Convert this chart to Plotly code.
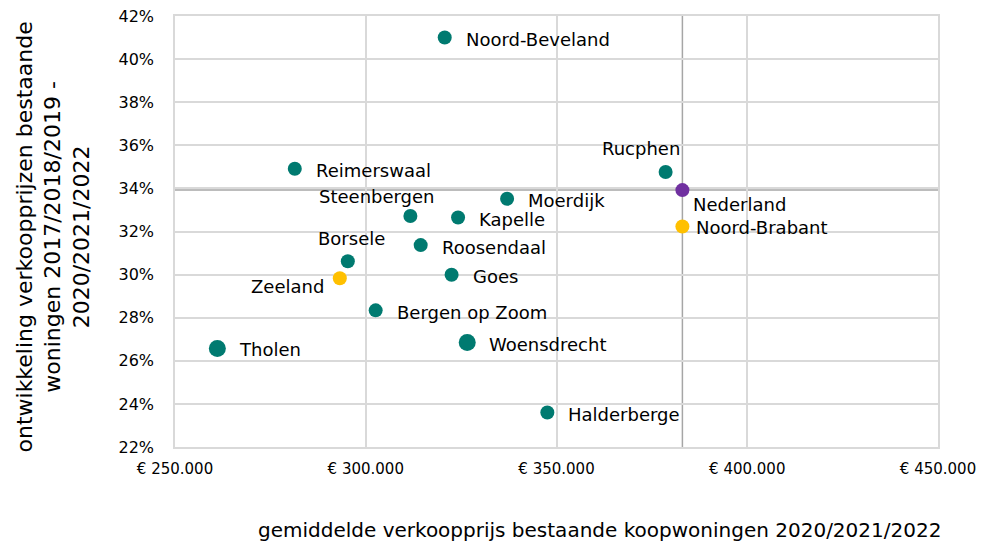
import plotly.graph_objects as go

names = ["Noord-Beveland", "Reimerswaal", "Steenbergen", "Kapelle", "Moerdijk", "Rucphen",
         "Nederland", "Noord-Brabant", "Roosendaal", "Borsele", "Zeeland", "Goes",
         "Bergen op Zoom", "Tholen", "Woensdrecht", "Halderberge"]
prices = [320700, 281400, 311700, 324200, 337050, 378600,
          383000, 383000, 314400, 295300, 293200, 322500,
          302600, 261100, 326600, 347600]
growth = [0.4100, 0.3491, 0.3272, 0.3265, 0.3352, 0.3476,
          0.3392, 0.3223, 0.3137, 0.3062, 0.2983, 0.2999,
          0.2834, 0.2657, 0.2685, 0.2360]
kinds = ["gemeente", "gemeente", "gemeente", "gemeente", "gemeente", "gemeente",
         "land", "provincie", "gemeente", "gemeente", "provincie", "gemeente",
         "gemeente", "gemeente", "gemeente", "gemeente"]
sizes = [14, 14, 14, 14, 14, 14, 14, 14, 14, 14, 14, 14, 14, 17, 17, 14]
# label placement: (xanchor, xshift, yshift)
label_pos = {
    "Noord-Beveland": ("left", 19, -2),
    "Reimerswaal": ("left", 19, -2),
    "Steenbergen": ("right", 27, 19),
    "Kapelle": ("left", 19, -2),
    "Moerdijk": ("left", 19, -2),
    "Rucphen": ("right", 16, 24),
    "Nederland": ("left", 9, -14),
    "Noord-Brabant": ("left", 12, -1),
    "Roosendaal": ("left", 19, -2),
    "Borsele": ("right", 39, 23),
    "Zeeland": ("right", -14, -8),
    "Goes": ("left", 19, -2),
    "Bergen op Zoom": ("left", 19, -2),
    "Tholen": ("left", 20, -1),
    "Woensdrecht": ("left", 20, -2),
    "Halderberge": ("left", 19, -2),
}
colors = {"gemeente": "#007A70", "provincie": "#FFC000", "land": "#7030A0"}

x_ticks = [250000, 300000, 350000, 400000, 450000]
x_ticktext = ["€ 250.000", "€ 300.000", "€ 350.000", "€ 400.000", "€ 450.000"]
y_ticks = [0.22, 0.24, 0.26, 0.28, 0.30, 0.32, 0.34, 0.36, 0.38, 0.40, 0.42]
x_title = "gemiddelde verkoopprijs bestaande koopwoningen 2020/2021/2022"
y_title = "ontwikkeling verkoopprijzen bestaande<br>woningen 2017/2018/2019 -<br>2020/2021/2022"

ref_x = prices[names.index("Nederland")]
ref_y = growth[names.index("Nederland")]

FONT = "DejaVu Sans"
fig = go.Figure()

# reference lines through Nederland
fig.add_shape(type="line", x0=ref_x, x1=ref_x, y0=0.22, y1=0.42, xref="x", yref="y",
              line=dict(color="#A6A6A6", width=1.5), layer="below")
fig.add_shape(type="line", x0=250000, x1=450000, y0=ref_y, y1=ref_y, xref="x", yref="y",
              line=dict(color="#A6A6A6", width=1.5), layer="below")

fig.add_trace(go.Scatter(
    x=prices, y=growth, mode="markers",
    marker=dict(color=[colors[k] for k in kinds], size=sizes, opacity=1, line=dict(width=0)),
    text=names, hoverinfo="text", showlegend=False,
))

for n, px, gy in zip(names, prices, growth):
    xa, xs, ys = label_pos[n]
    fig.add_annotation(x=px, y=gy, text=n, showarrow=False, xanchor=xa, yanchor="middle",
                       xshift=xs, yshift=ys, font=dict(family=FONT, size=18, color="#000000"))

# axis titles
fig.add_annotation(xref="paper", yref="paper", x=0.557, y=0, xanchor="center", yanchor="middle",
                   yshift=-83, text=x_title, showarrow=False,
                   font=dict(family=FONT, size=20, color="#000000"))
fig.add_annotation(xref="paper", yref="paper", x=0, y=0.5, xanchor="center", yanchor="middle",
                   xshift=-123, yshift=-6, textangle=-90, text=y_title, showarrow=False,
                   font=dict(family=FONT, size=22, color="#000000"))

fig.update_layout(
    width=976, height=537,
    margin=dict(l=167, r=46, t=8, b=98, autoexpand=False),
    paper_bgcolor="white", plot_bgcolor="white",
    font=dict(family=FONT, color="#000000"),
)
fig.update_xaxes(
    range=[250000, 450000], tickvals=x_ticks, ticktext=x_ticktext, automargin=False,
    showgrid=True, gridcolor="#D9D9D9", gridwidth=1.5,
    showline=True, linecolor="#D9D9D9", linewidth=1.5, mirror=True, zeroline=False,
    tickfont=dict(family=FONT, size=15), ticklen=0, ticklabelstandoff=7,
    ticklabeloverflow="allow",
)
fig.update_yaxes(
    range=[0.22, 0.42], tickvals=y_ticks, tickformat=".0%", automargin=False,
    showgrid=True, gridcolor="#D9D9D9", gridwidth=1.5,
    showline=True, linecolor="#D9D9D9", linewidth=1.5, mirror=True, zeroline=False,
    tickfont=dict(family=FONT, size=16), ticklen=0, ticklabelstandoff=16,
    ticklabeloverflow="allow",
)

fig.write_html("out.html")
